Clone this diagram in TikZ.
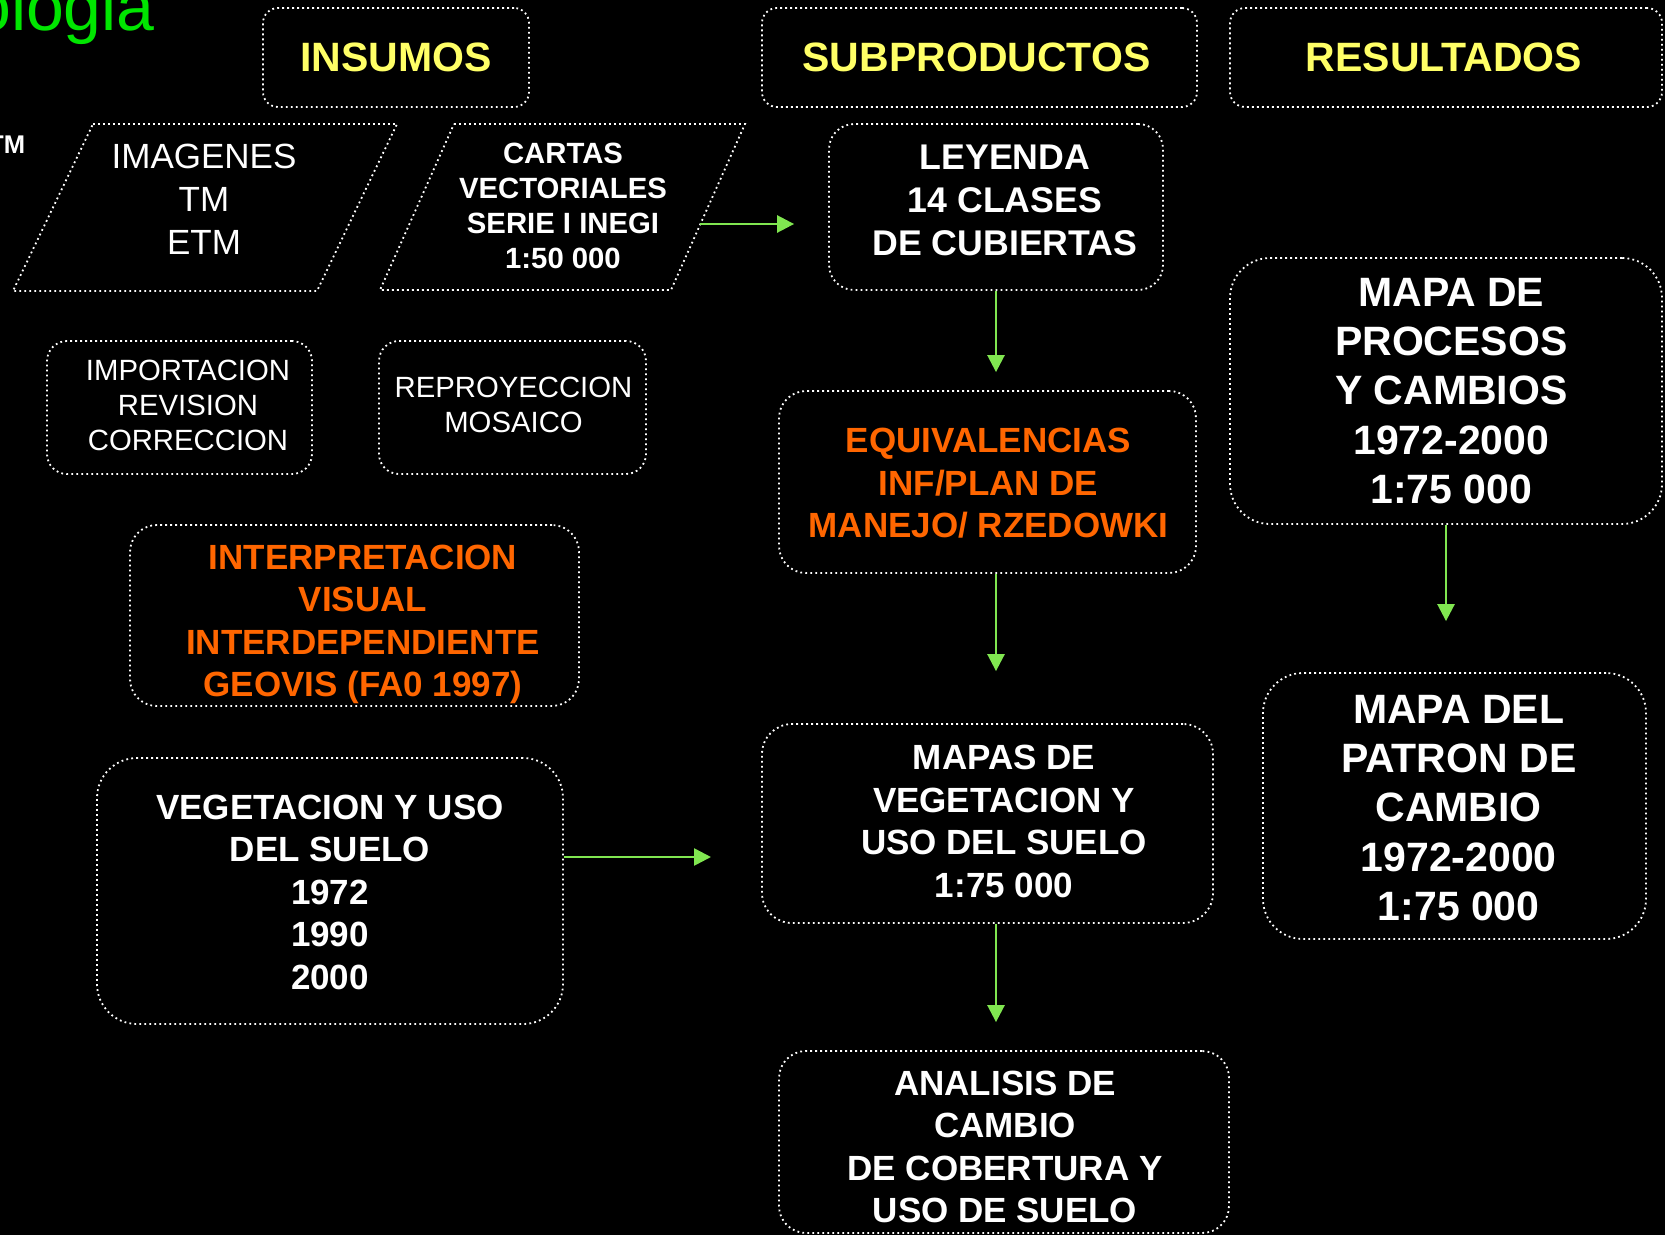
\documentclass[tikz,border=0pt]{standalone}
\usepackage{fontspec}
\setmainfont{Liberation Sans}
\usetikzlibrary{arrows.meta}
\definecolor{hyellow}{RGB}{255,255,102}
\definecolor{horange}{RGB}{255,102,0}
\definecolor{agreen}{RGB}{128,230,80}
\definecolor{tgreen}{RGB}{0,230,0}
\tikzset{
  box/.style={draw=white, line width=1.8pt, dash pattern=on 1.8pt off 3.2pt,
    align=center, inner sep=0pt, text=white},
  para/.style={draw=white, line width=1.8pt, dash pattern=on 1.8pt off 3.2pt},
  txt/.style={align=center, inner sep=0pt, text=white},
  head/.style={box, text=hyellow, rounded corners=15pt, minimum height=99pt,
    font=\fontsize{41}{49}\selectfont\bfseries},
  arr/.style={draw=agreen, line width=2.6pt, -{Triangle[length=17pt,width=17pt]}},
  fbig/.style={font=\fontsize{35}{42.5}\selectfont\bfseries},
  fhuge/.style={font=\fontsize{41}{49.3}\selectfont\bfseries},
  fsmall/.style={font=\fontsize{29.3}{35}\selectfont},
}
\begin{document}
\begin{tikzpicture}[x=1pt,y=-1pt]
\useasboundingbox (0,0) rectangle (1665,1235);
\fill[black] (0,0) rectangle (1665,1235);
\begin{scope}
\clip (0,0) rectangle (1665,1235);
\node[anchor=base west, inner sep=0pt, text=tgreen, font=\fontsize{68}{68}\selectfont] (title) at (-27,30) {ologia};
\node[anchor=base west, inner sep=0pt, text=white, font=\fontsize{25.6}{26}\selectfont\bfseries] (tmcut) at (-12,153) {TM};
\end{scope}

% headings
\node[head, minimum width=266pt] (insumos) at (396,57.5) {};
\node[txt, text=hyellow, font=\fontsize{41}{49}\selectfont\bfseries] (insumos-t) at (396,57.5) {INSUMOS};
\node[head, minimum width=435pt] (subprod) at (979.5,57.5) {};
\node[txt, text=hyellow, font=\fontsize{41}{49}\selectfont\bfseries] (subprod-t) at (976.5,57.5) {SUBPRODUCTOS};
\node[head, minimum width=432pt] (result) at (1446,57.5) {};
\node[txt, text=hyellow, font=\fontsize{41}{49}\selectfont\bfseries] (result-t) at (1444,57.5) {RESULTADOS};

% parallelograms
\draw[para] (93,124) -- (397,124) -- (317,291) -- (13,291) -- cycle;
\node[txt, font=\fontsize{35}{43}\selectfont] (imagenes) at (204,199) {IMAGENES\\TM\\ETM};
\draw[para] (454,124) -- (745,124) -- (671,290) -- (380,290) -- cycle;
\node[txt, font=\fontsize{29.3}{35}\selectfont\bfseries] (cartas) at (563,206) {CARTAS\\VECTORIALES\\SERIE I INEGI\\1:50 000};
\coordinate (cartasedge) at (700,224);

% left column boxes
\node[box, minimum width=265pt, minimum height=133pt, rounded corners=20pt] (import) at (179.5,407.5) {};
\node[txt, fsmall] (import-t) at (188,405.5) {IMPORTACION\\REVISION\\CORRECCION};
\node[box, minimum width=267pt, minimum height=133pt, rounded corners=20pt] (reproy) at (512.5,407.5) {};
\node[txt, fsmall] (reproy-t) at (513.5,404.5) {REPROYECCION\\MOSAICO};
\node[box, minimum width=449pt, minimum height=181pt, rounded corners=27pt] (interp) at (354.5,615.5) {};
\node[txt, fbig, text=horange] (interp-t) at (363,624.5) {INTERPRETACION\\VISUAL\\INTERDEPENDIENTE\\GEOVIS (FA0 1997)};
\node[box, minimum width=466pt, minimum height=266pt, rounded corners=40pt] (veg) at (330,891) {};
\node[txt, fbig] (veg-t) at (330,892) {VEGETACION Y USO\\DEL SUELO\\1972\\1990\\2000};
\coordinate (vegtip) at (711,857);

% middle column
\node[box, minimum width=334pt, minimum height=166pt, rounded corners=25pt] (leyenda) at (996,207) {};
\node[txt, font=\fontsize{35.7}{43}\selectfont\bfseries] (leyenda-t) at (1005,200) {LEYENDA\\14 CLASES\\DE CUBIERTAS};
\node[box, minimum width=417pt, minimum height=182pt, rounded corners=27pt] (equiv) at (987.5,482) {};
\node[txt, fbig, text=horange] (equiv-t) at (988.5,483.5) {EQUIVALENCIAS\\INF/PLAN DE\\MANEJO/ RZEDOWKI};
\node[box, minimum width=451pt, minimum height=199pt, rounded corners=30pt] (mapas) at (987.5,823.5) {};
\node[txt, fbig] (mapas-t) at (1004,821.5) {MAPAS DE\\VEGETACION Y\\USO DEL SUELO\\1:75 000};
\node[box, minimum width=450pt, minimum height=182pt, rounded corners=27pt] (analisis) at (1004,1142) {};
\node[txt, fbig] (analisis-t) at (1005,1147) {ANALISIS DE\\CAMBIO\\DE COBERTURA Y\\USO DE SUELO};

% right column
\node[box, minimum width=432pt, minimum height=266pt, rounded corners=40pt] (procesos) at (1446,391) {};
\node[txt, fhuge] (procesos-t) at (1451.3,391) {MAPA DE\\PROCESOS\\Y CAMBIOS\\1972-2000\\1:75 000};
\node[box, minimum width=383pt, minimum height=266pt, rounded corners=40pt] (patron) at (1454.5,806) {};
\node[txt, fhuge] (patron-t) at (1458.7,808) {MAPA DEL\\PATRON DE\\CAMBIO\\1972-2000\\1:75 000};

% arrows
\draw[arr, shorten >=34pt] (cartasedge) -- (cartasedge -| leyenda.west);
\draw[arr, shorten >=18pt] (leyenda.south) -- (leyenda.south |- equiv.north);
\draw[arr, shorten >=52pt] (equiv.south -| leyenda.south) -- (leyenda.south |- mapas.north);
\draw[arr, shorten >=28pt] (mapas.south -| leyenda.south) -- (leyenda.south |- analisis.north);
\draw[arr, shorten >=51pt] (procesos.south) -- (procesos.south |- patron.north);
\draw[arr] ([yshift=34pt]veg.east) -- (vegtip);
\end{tikzpicture}
\end{document}
